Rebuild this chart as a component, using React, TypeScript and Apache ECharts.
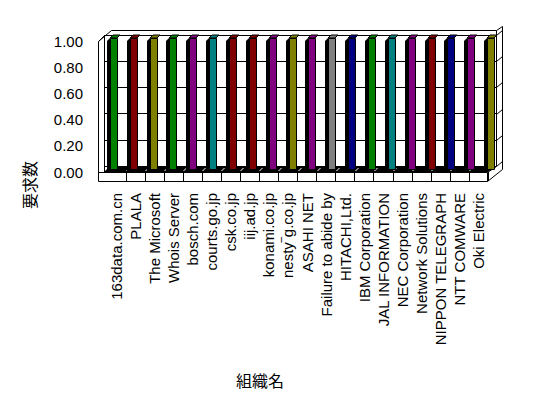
import React, { useEffect, useRef } from "react";
import * as echarts from "echarts";

const categories = [
  "163data.com.cn",
  "PLALA",
  "The Microsoft",
  "Whois Server",
  "bosch.com",
  "courts.go.jp",
  "csk.co.jp",
  "iij.ad.jp",
  "konami.co.jp",
  "nesty\u203Eg.co.jp",
  "ASAHI NET",
  "Failure to abide by",
  "HITACHI,Ltd.",
  "IBM Corporation",
  "JAL INFORMATION",
  "NEC Corporation",
  "Network Solutions",
  "NIPPON TELEGRAPH",
  "NTT COMWARE",
  "Oki Electric",
];
const requestCounts = [1, 1, 1, 1, 1, 1, 1, 1, 1, 1, 1, 1, 1, 1, 1, 1, 1, 1, 1, 1];
const barColors = [
  "#008000", "#800000", "#808000", "#008000", "#800080",
  "#008080", "#800000", "#800000", "#800080", "#808000",
  "#800080", "#808080", "#000080", "#008000", "#008080",
  "#800080", "#800000", "#000080", "#800080", "#808000",
];
const yTickValues = [0, 0.2, 0.4, 0.6, 0.8, 1.0];
const yAxisName = "要求数";
const xAxisName = "組織名";

const FONT = "'Liberation Sans', Arial, sans-serif";
const CJK = "'Noto Sans CJK JP', sans-serif";

export default function App() {
  const ref = useRef<HTMLDivElement>(null);
  useEffect(() => {
    if (!ref.current) return;
    const chart = echarts.init(ref.current, null, { renderer: "svg" });

    // label grid (front plane)
    const g0 = { left: 107, right: 60, top: 41, height: 131 };
    // bar grid (mid depth)
    const g1 = { left: 103, right: 48, top: 38, height: 131 };
    // gridline grid (back wall)
    const g2 = { left: 104, right: 52, top: 35, height: 131 };
    const backRight = 548 - g2.right;
    const catW0 = (548 - g0.left - g0.right) / categories.length;

    const lines: any[] = [];
    const ln = (x1: number, y1: number, x2: number, y2: number, color = "#000", z = 1) =>
      lines.push({
        type: "line",
        z,
        shape: { x1, y1, x2, y2 },
        style: { stroke: color, lineWidth: 1 },
        silent: true,
      });

    // floor shadow strip
    lines.push({
      type: "polygon",
      z: 0,
      shape: { points: [[110, 166], [backRight, 166], [488, 172], [104, 172]] },
      style: { fill: "#000" },
      silent: true,
    });
    // white marks on floor at dividers
    for (let k = 1; k < categories.length; k++) {
      const x = Math.round(g0.left + catW0 * k) + 0.5;
      ln(x, 171, x + 3, 168, "#fff", 1);
    }
    // outer frame
    lines.push({
      type: "polyline",
      z: 1,
      shape: {
        points: [
          [98.5, 181.5], [98.5, 41.5], [111.5, 30.5], [backRight + 0.5, 30.5],
          [502.5, 26.5], [502.5, 169.5], [487.5, 181.5], [98.5, 181.5],
        ],
      },
      style: { stroke: "#000", lineWidth: 1, fill: "none" },
      silent: true,
    });
    ln(98.5, 172.5, 487.5, 172.5);
    ln(487.5, 172.5, 487.5, 181.5);
    ln(487.5, 172.5, backRight + 0.5, 166.5);
    ln(104.5, 35.5, 104.5, 172.5);
    ln(98.5, 41.5, 104.5, 35.5);
    ln(backRight + 0.5, 30.5, backRight + 0.5, 166.5);
    // right-wall gridline ticks
    yTickValues.forEach((v) => {
      const y = Math.round(g2.top + g2.height * (1 - v)) + 0.5;
      ln(backRight + 0.5, y, 502.5, y - 5);
    });

    chart.setOption({
      animation: false,
      backgroundColor: "#fff",
      grid: [
        { ...g0, containLabel: false },
        { ...g1, containLabel: false },
        { ...g2, containLabel: false },
      ],
      xAxis: [
        {
          type: "category",
          gridIndex: 0,
          data: categories,
          boundaryGap: true,
          axisLine: { show: false },
          axisTick: {
            show: true,
            length: 9,
            interval: (i: number) => i > 0,
            lineStyle: { color: "#000", width: 1 },
          },
          axisLabel: {
            interval: 0,
            rotate: 90,
            margin: 21,
            fontSize: 15,
            fontFamily: FONT,
            color: "#000",
          },
          splitLine: { show: false },
        },
        {
          type: "category",
          gridIndex: 1,
          data: categories,
          show: false,
        },
        {
          type: "category",
          gridIndex: 2,
          data: categories,
          show: false,
        },
      ],
      yAxis: [
        {
          type: "value",
          gridIndex: 0,
          min: 0,
          max: 1,
          interval: 0.2,
          axisLine: { show: false },
          axisTick: { show: false },
          splitLine: { show: false },
          axisLabel: {
            margin: 24,
            fontSize: 15,
            fontFamily: FONT,
            color: "#000",
            formatter: (v: number) => v.toFixed(2),
          },
        },
        {
          type: "value",
          gridIndex: 1,
          min: 0,
          max: 1,
          interval: 0.2,
          show: false,
        },
        {
          type: "value",
          gridIndex: 2,
          min: 0,
          max: 1,
          interval: 0.2,
          axisLine: { show: false },
          axisTick: { show: false },
          axisLabel: { show: false },
          splitLine: { show: true, lineStyle: { color: "#000", width: 1 } },
        },
      ],
      series: [
        {
          type: "custom",
          xAxisIndex: 1,
          yAxisIndex: 1,
          z: 5,
          data: requestCounts.map((v, i) => ({
            value: [i, v],
            itemStyle: { color: barColors[i] },
          })),
          renderItem: (params: any, api: any) => {
            const i = api.value(0);
            const v = api.value(1);
            const p = api.coord([i, v]);
            const b = api.coord([i, 0]);
            const cx = Math.round(p[0]);
            const top = Math.round(p[1]);
            const base = Math.round(b[1]);
            const color = api.visual("color");
            return {
              type: "group",
              children: [
                {
                  type: "polygon",
                  shape: {
                    points: [[cx - 6, top + 3], [cx - 3, top], [cx - 3, base], [cx - 6, base + 3]],
                  },
                  style: { fill: "#000" },
                },
                {
                  type: "polygon",
                  shape: {
                    points: [[cx - 3, top], [cx, top - 3], [cx + 7, top - 3], [cx + 4, top]],
                  },
                  style: { fill: color, stroke: "#000", lineWidth: 1 },
                },
                {
                  type: "rect",
                  shape: { x: cx - 3 + 0.5, y: top + 0.5, width: 7, height: base - top },
                  style: { fill: color, stroke: "#000", lineWidth: 1 },
                },
              ],
            };
          },
        },
      ],
      graphic: [
        ...lines,
        {
          type: "text",
          x: 29,
          y: 185,
          rotation: Math.PI / 2,
          style: {
            text: yAxisName,
            fontSize: 16,
            fontFamily: CJK,
            fill: "#000",
            align: "center",
            verticalAlign: "middle",
          },
        },
        {
          type: "text",
          x: 260,
          y: 380,
          style: {
            text: xAxisName,
            fontSize: 16,
            fontFamily: CJK,
            fill: "#000",
            align: "center",
            verticalAlign: "middle",
          },
        },
      ],
    });
    return () => chart.dispose();
  }, []);
  return <div ref={ref} style={{ width: 548, height: 398, position: "absolute", left: 0, top: 0 }} />;
}
